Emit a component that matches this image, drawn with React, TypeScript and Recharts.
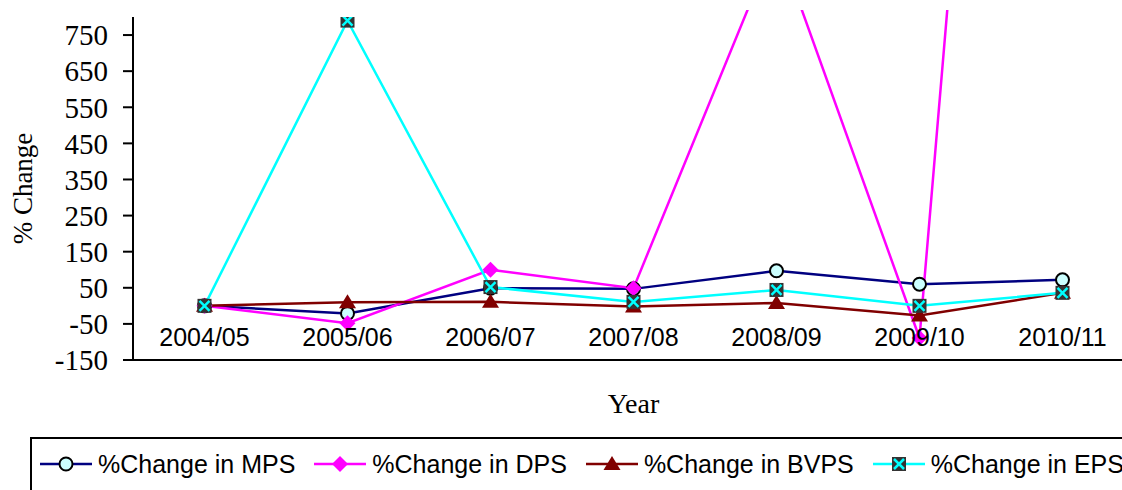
import { LineChart, Line, XAxis, YAxis, Legend } from 'recharts';

// year-on-year % change, base year 2004/05
const years = ['2004/05', '2005/06', '2006/07', '2007/08', '2008/09', '2009/10', '2010/11'];
const mps = [0, -21, 49, 47, 97, 60, 72];
const dps = [0, -48, 100, 49, 1015, -89, 4590];
const bvps = [0, 10, 11, -2, 8, -27, 36];
const eps = [0, 790, 52, 11, 44, 0, 36];

const yTicks = [-150, -50, 50, 150, 250, 350, 450, 550, 650, 750];

const data = years.map((year, i) => ({
  year,
  mps: mps[i],
  dps: dps[i],
  bvps: bvps[i],
  eps: eps[i],
}));

const SERIF = "'Liberation Serif', 'Times New Roman', serif";
const SANS = "'Liberation Sans', Arial, sans-serif";

type Shape = 'circle' | 'diamond' | 'triangle' | 'xsquare';

const Marker = ({ cx, cy, shape }: { cx: number; cy: number; shape: Shape }) => {
  if (shape === 'circle') {
    return <circle cx={cx} cy={cy} r={6.5} fill="#CCFFFF" stroke="#000" strokeWidth={2} />;
  }
  if (shape === 'diamond') {
    return (
      <polygon
        points={`${cx},${cy - 8} ${cx + 8},${cy} ${cx},${cy + 8} ${cx - 8},${cy}`}
        fill="#FF00FF"
      />
    );
  }
  if (shape === 'triangle') {
    return (
      <polygon
        points={`${cx},${cy - 8} ${cx + 8.5},${cy + 6} ${cx - 8.5},${cy + 6}`}
        fill="#800000"
      />
    );
  }
  return (
    <g>
      <rect x={cx - 7} y={cy - 7} width={14} height={14} fill="#333333" />
      <line x1={cx - 5} y1={cy - 5} x2={cx + 5} y2={cy + 5} stroke="#00FFFF" strokeWidth={2.5} />
      <line x1={cx - 5} y1={cy + 5} x2={cx + 5} y2={cy - 5} stroke="#00FFFF" strokeWidth={2.5} />
    </g>
  );
};

const series: { key: string; name: string; color: string; shape: Shape }[] = [
  { key: 'mps', name: '%Change in MPS', color: '#000080', shape: 'circle' },
  { key: 'dps', name: '%Change in DPS', color: '#FF00FF', shape: 'diamond' },
  { key: 'bvps', name: '%Change in BVPS', color: '#800000', shape: 'triangle' },
  { key: 'eps', name: '%Change in EPS', color: '#00FFFF', shape: 'xsquare' },
];

const makeDot = (shape: Shape) => (p: any) => {
  if (!Number.isFinite(p.cx) || !Number.isFinite(p.cy)) return <g key={p.index} />;
  return (
    <g key={p.index}>
      <Marker cx={p.cx} cy={p.cy} shape={shape} />
    </g>
  );
};

const XTick = ({ x, y, payload }: any) => (
  <text
    x={x}
    y={y - 23}
    textAnchor="middle"
    dominantBaseline="central"
    fontFamily={SANS}
    fontSize={25}
    fill="#000"
  >
    {payload.value}
  </text>
);

const LegendBox = () => (
  <div
    style={{
      border: '2px solid #000',
      height: 80,
      boxSizing: 'border-box',
      display: 'flex',
      alignItems: 'center',
      paddingLeft: 8,
      paddingBottom: 26,
      fontFamily: SANS,
      fontSize: 25,
      color: '#000',
      whiteSpace: 'nowrap',
    }}
  >
    {series.map((s) => (
      <div key={s.key} style={{ display: 'flex', alignItems: 'center', marginRight: 19 }}>
        <svg width={52} height={20}>
          <line x1={0} y1={10} x2={52} y2={10} stroke={s.color} strokeWidth={2.5} />
          <Marker cx={26} cy={10} shape={s.shape} />
        </svg>
        <span style={{ marginLeft: 6 }}>{s.name}</span>
      </div>
    ))}
  </div>
);

export default function App() {
  return (
    <div
      style={{
        position: 'absolute',
        left: 0,
        top: 0,
        width: 1122,
        height: 490,
        overflow: 'hidden',
        background: '#fff',
      }}
    >
      <style>{`.recharts-line, .recharts-line g, .recharts-line path { clip-path: none !important; }`}</style>
      <div style={{ position: 'absolute', left: 0, top: 10 }}>
        <LineChart
          width={1160}
          height={480}
          data={data}
          margin={{ top: 7, right: 26, bottom: 100, left: 0 }}
        >
          <XAxis
            dataKey="year"
            padding={{ left: 71.5, right: 71.5 }}
            tickLine={false}
            tickSize={0}
            tickMargin={0}
            tick={<XTick />}
            interval={0}
            height={30}
            axisLine={{ stroke: '#000', strokeWidth: 2 }}
            label={{
              value: 'Year',
              position: 'center',
              dy: 28,
              fontFamily: SERIF,
              fontSize: 28,
              fill: '#000',
            }}
          />
          <XAxis
            xAxisId="top"
            dataKey="year"
            orientation="top"
            height={0}
            tick={false}
            tickLine={false}
            axisLine={{ stroke: '#000', strokeWidth: 2 }}
          />
          <YAxis
            width={133}
            domain={[-150, 800]}
            ticks={yTicks}
            allowDataOverflow
            interval={0}
            tickSize={10}
            tickMargin={15}
            tick={{ fontFamily: SERIF, fontSize: 29, fill: '#000' }}
            tickLine={{ stroke: '#000', strokeWidth: 2 }}
            axisLine={{ stroke: '#000', strokeWidth: 2 }}
            label={{
              value: '% Change',
              angle: -90,
              position: 'center',
              dx: -44,
              fontFamily: SERIF,
              fontSize: 27,
              fill: '#000',
            }}
          />
          <Legend
            layout="horizontal"
            verticalAlign="middle"
            align="center"
            wrapperStyle={{ left: 30, top: 427, width: 1200 }}
            content={() => <LegendBox />}
          />
          {series.map((s) => (
            <Line
              key={s.key}
              dataKey={s.key}
              name={s.name}
              stroke={s.color}
              strokeWidth={2.5}
              type="linear"
              dot={makeDot(s.shape)}
              activeDot={false}
              isAnimationActive={false}
            />
          ))}
        </LineChart>
      </div>
    </div>
  );
}
